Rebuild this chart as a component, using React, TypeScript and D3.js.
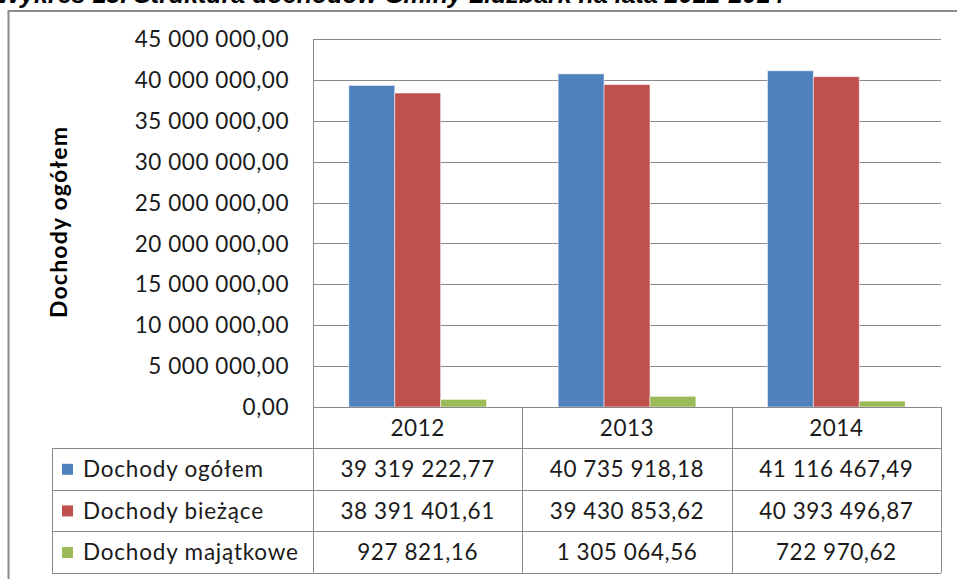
import { useEffect, useRef } from "react";
import * as d3 from "d3";

const years = ["2012", "2013", "2014"];
const seriesNames = ["Dochody ogółem", "Dochody bieżące", "Dochody majątkowe"];
const ogolem = [39319222.77, 40735918.18, 41116467.49];
const biezace = [38391401.61, 39430853.62, 40393496.87];
const majatkowe = [927821.16, 1305064.56, 722970.62];
const yTicks = [0, 5e6, 10e6, 15e6, 20e6, 25e6, 30e6, 35e6, 40e6, 45e6];
const colors = ["#4F81BD", "#C0504D", "#9BBB59"];
const title = "Wykres 13. Struktura dochodów Gminy Lidzbark na lata 2012-2014";
const axisTitle = "Dochody ogółem";

const App = () => {
  const svgRef = useRef<SVGSVGElement | null>(null);

  useEffect(() => {
    const svg = d3.select(svgRef.current);
    svg.selectAll("*").remove();

    const width = 957;
    const height = 579;
    const font = "Lato, 'Open Sans', sans-serif";
    const fontSize = "22.5px";
    const spacing = "0.55px";
    const textColor = "#1a1a1a";
    const values = [ogolem, biezace, majatkowe];

    const plot = { left: 313, right: 941, top: 39, bottom: 407 };
    const table = { left: 52, header: 448, rowH: 41.6 };

    const pl = d3.formatLocale({
      decimal: ",",
      thousands: "\u00a0",
      grouping: [3],
      currency: ["", " zł"],
    });
    const fmt = pl.format(",.2f");

    svg.attr("width", width).attr("height", height);

    svg.append("rect").attr("width", width).attr("height", height).attr("fill", "#fff");

    // caption, cut off at the top of the image
    svg.append("text")
      .attr("x", -3)
      .attr("y", 3)
      .style("font-family", "'Liberation Sans', Arial, sans-serif")
      .style("font-size", "25px")
      .style("font-weight", "bold")
      .style("font-style", "italic")
      .attr("fill", "#000")
      .text(title);

    // chart frame
    svg.append("rect")
      .attr("x", 8.5)
      .attr("y", 11)
      .attr("width", width + 20)
      .attr("height", height + 20)
      .attr("fill", "none")
      .attr("stroke", "#8c8c8c")
      .attr("stroke-width", 2);

    const x0 = d3.scaleBand<string>().domain(years).range([plot.left, plot.right]);
    const x1 = d3
      .scaleBand<string>()
      .domain(seriesNames)
      .range([0, x0.bandwidth()])
      .paddingOuter(0.78);
    const y = d3.scaleLinear().domain([0, 45e6]).range([plot.bottom, plot.top]);

    // gridlines
    svg.append("g")
      .selectAll("line")
      .data(yTicks)
      .enter()
      .append("line")
      .attr("x1", plot.left)
      .attr("x2", plot.right)
      .attr("y1", (d) => Math.round(y(d)) + 0.5)
      .attr("y2", (d) => Math.round(y(d)) + 0.5)
      .attr("stroke", "#8a8a8a")
      .attr("stroke-width", 1);

    // tick labels
    svg.append("g")
      .selectAll("text")
      .data(yTicks)
      .enter()
      .append("text")
      .attr("x", 289)
      .attr("y", (d) => y(d))
      .attr("dy", "0.36em")
      .attr("text-anchor", "end")
      .style("font-family", font)
      .style("font-size", fontSize)
      .style("letter-spacing", spacing)
      .attr("fill", textColor)
      .text((d) => fmt(d));

    // axis title
    svg.append("text")
      .attr("transform", "translate(67,222) rotate(-90)")
      .attr("text-anchor", "middle")
      .style("font-family", font)
      .style("font-size", "23px")
      .style("font-weight", "bold")
      .style("letter-spacing", "1.2px")
      .attr("fill", "#000")
      .text(axisTitle);

    // bars
    const groups = svg.append("g")
      .selectAll("g")
      .data(years)
      .enter()
      .append("g")
      .attr("transform", (d) => `translate(${x0(d)},0)`);

    groups
      .selectAll("rect")
      .data((_, i) => seriesNames.map((s, k) => ({ s, k, v: values[k][i] })))
      .enter()
      .append("rect")
      .attr("x", (d) => x1(d.s) as number)
      .attr("width", x1.bandwidth())
      .attr("y", (d) => y(d.v))
      .attr("height", (d) => y(0) - y(d.v))
      .attr("fill", (d) => colors[d.k])
      .attr("stroke", "rgba(255,255,255,0.5)")
      .attr("stroke-width", 1);

    const lineColor = "#8a8a8a";

    // vertical axis line, continues through the header row
    svg.append("line")
      .attr("x1", plot.left + 0.5)
      .attr("x2", plot.left + 0.5)
      .attr("y1", plot.top)
      .attr("y2", table.header + table.rowH * 3)
      .attr("stroke", lineColor);

    // header row
    const tableG = svg.append("g");
    tableG.append("line")
      .attr("x1", plot.left)
      .attr("x2", plot.right)
      .attr("y1", plot.bottom + 0.5)
      .attr("y2", plot.bottom + 0.5)
      .attr("stroke", lineColor);

    tableG
      .selectAll("text.year")
      .data(years)
      .enter()
      .append("text")
      .attr("class", "year")
      .attr("x", (d) => (x0(d) as number) + x0.bandwidth() / 2)
      .attr("y", (plot.bottom + table.header) / 2)
      .attr("dy", "0.36em")
      .attr("text-anchor", "middle")
      .style("font-family", font)
      .style("font-size", fontSize)
      .style("letter-spacing", spacing)
      .attr("fill", textColor)
      .text((d) => d);

    // horizontal row lines
    const rowLines = d3.range(4).map((i) => table.header + table.rowH * i);
    tableG
      .selectAll("line.row")
      .data(rowLines)
      .enter()
      .append("line")
      .attr("class", "row")
      .attr("x1", table.left)
      .attr("x2", plot.right)
      .attr("y1", (d) => Math.round(d) + 0.5)
      .attr("y2", (d) => Math.round(d) + 0.5)
      .attr("stroke", lineColor);

    // vertical column lines
    const colLines = [table.left, ...years.map((d) => (x0(d) as number) + x0.bandwidth())];
    tableG
      .selectAll("line.col")
      .data(colLines)
      .enter()
      .append("line")
      .attr("class", "col")
      .attr("x1", (d) => Math.round(d) + 0.5)
      .attr("x2", (d) => Math.round(d) + 0.5)
      .attr("y1", (d) => (d === table.left ? table.header : plot.bottom))
      .attr("y2", table.header + table.rowH * 3)
      .attr("stroke", lineColor);

    // rows: legend key, series name, values
    seriesNames.forEach((name, k) => {
      const cy = table.header + table.rowH * (k + 0.5);
      tableG.append("rect")
        .attr("x", table.left + 10)
        .attr("y", cy - 5)
        .attr("width", 11)
        .attr("height", 11)
        .attr("fill", colors[k]);
      tableG.append("text")
        .attr("x", table.left + 31)
        .attr("y", cy)
        .attr("dy", "0.36em")
        .style("font-family", font)
        .style("font-size", fontSize)
        .style("letter-spacing", "0.8px")
        .attr("fill", textColor)
        .text(name);
      years.forEach((yr, i) => {
        tableG.append("text")
          .attr("x", (x0(yr) as number) + x0.bandwidth() / 2)
          .attr("y", cy)
          .attr("dy", "0.36em")
          .attr("text-anchor", "middle")
          .style("font-family", font)
          .style("font-size", fontSize)
          .style("letter-spacing", spacing)
          .attr("fill", textColor)
          .text(fmt(values[k][i]));
      });
    });
  }, []);

  return (
    <svg
      ref={svgRef}
      style={{ position: "absolute", left: 0, top: 0, display: "block" }}
    />
  );
};

export default App;
